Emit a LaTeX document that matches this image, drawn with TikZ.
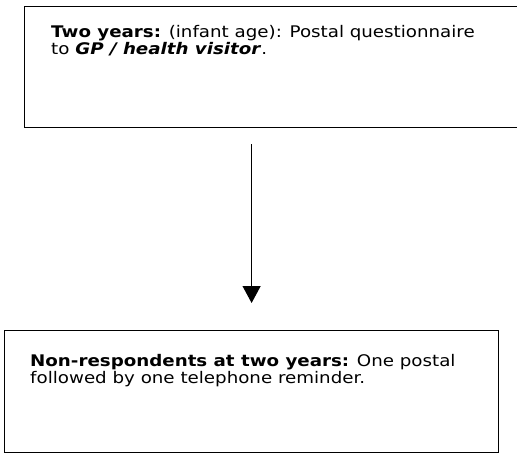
\documentclass[tikz,border=0pt]{standalone}
\usepackage{fontspec}
\setmainfont[FakeStretch=1.14]{DejaVu Sans}
\usetikzlibrary{arrows.meta,positioning}
\tikzset{
  stagebox/.style={draw, line width=1.2pt, anchor=north west, inner sep=0pt},
  stagetext/.style={anchor=north west, inner sep=0pt, align=left,
    font=\fontsize{16}{17.5}\selectfont},
  flow/.style={-{Triangle[width=18pt,length=17pt]}, line width=1.2pt}
}
\begin{document}
\begin{tikzpicture}[x=1pt,y=-1pt]
\useasboundingbox (0,0) rectangle (517,455);
\clip (0,0) rectangle (517,455);
% first stage box
\node[stagebox, minimum width=520pt, minimum height=121pt] (twoyr) at (24,6) {};
\node[stagetext] (twoyrtxt) at (51,24.8) {\textbf{Two years:} (infant age): Postal questionnaire\\
to \textbf{\textit{GP / health visitor}}.};
% reminder box
\node[stagebox, minimum width=494pt, minimum height=122pt] (remind) at (4,330) {};
\node[stagetext] (remindtxt) at (30,353.8) {\textbf{Non-respondents at two years:} One postal\\
followed by one telephone reminder.};
\draw[flow, shorten <=16pt, shorten >=27pt] (remind.north |- twoyr.south) -- (remind.north);
\end{tikzpicture}
\end{document}
